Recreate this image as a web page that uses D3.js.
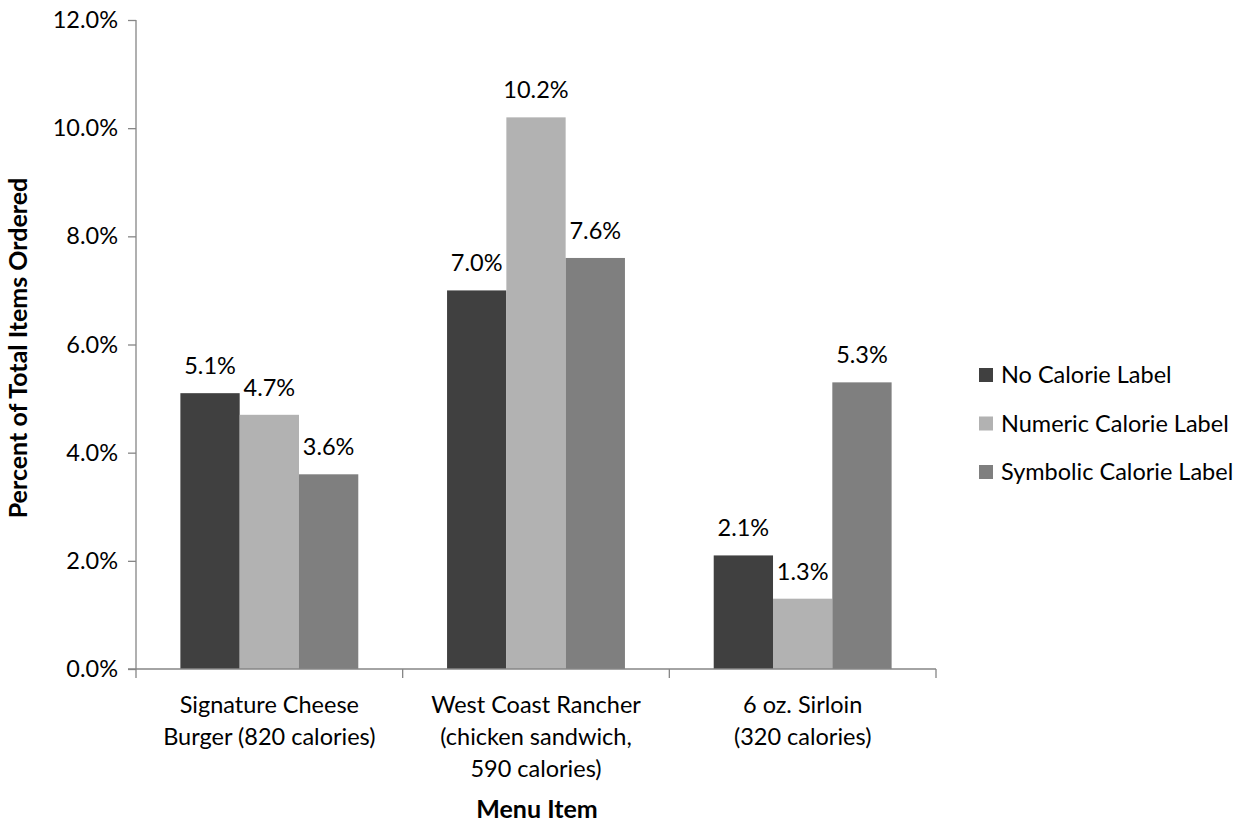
<!DOCTYPE html>
<html>
<head>
<meta charset="utf-8">
<script src="https://cdn.jsdelivr.net/npm/d3@7"></script>
<style>
  html, body { margin: 0; padding: 0; background: #fff; }
  svg text { font-family: Lato, "Open Sans", sans-serif; fill: #000; }
</style>
</head>
<body>
<svg id="chart" width="1259" height="825"></svg>
<script>
// Menu items (x-axis categories), one line per row of the label
const categories = [
  ["Signature Cheese", "Burger (820 calories)"],
  ["West Coast Rancher", "(chicken sandwich,", "590 calories)"],
  ["6 oz. Sirloin", "(320 calories)"]
];
const seriesNames = ["No Calorie Label", "Numeric Calorie Label", "Symbolic Calorie Label"];
// Percent of total items ordered, per series, in category order
const noLabel = [5.1, 7.0, 2.1];
const numericLabel = [4.7, 10.2, 1.3];
const symbolicLabel = [3.6, 7.6, 5.3];
const yTicks = [0, 2, 4, 6, 8, 10, 12];
const colors = ["#404040", "#b2b2b2", "#7f7f7f"];

const series = [noLabel, numericLabel, symbolicLabel];

const FS = 23.5;          // body text size
const TS = 25;            // axis title size
const svg = d3.select("#chart");
const plot = { left: 136, right: 936, top: 20, bottom: 669 };

const x0 = d3.scaleBand()
  .domain(d3.range(categories.length))
  .range([plot.left, plot.right]);
const barW = 59.3;
const x1 = d3.scaleBand()
  .domain(d3.range(series.length))
  .range([0, x0.bandwidth()])
  .paddingInner(0)
  .paddingOuter(((x0.bandwidth() - 3 * barW) / 2) / barW);

const y = d3.scaleLinear().domain([0, 12]).range([plot.bottom, plot.top]);

const axisColor = "#868686";

// Bars
const groups = svg.append("g").selectAll("g")
  .data(categories.map((c, i) => i))
  .join("g")
  .attr("transform", i => `translate(${x0(i)},0)`);

groups.selectAll("rect")
  .data(i => series.map((s, k) => ({ k, v: s[i] })))
  .join("rect")
  .attr("x", d => x1(d.k))
  .attr("width", x1.bandwidth())
  .attr("y", d => y(d.v))
  .attr("height", d => y(0) - y(d.v))
  .attr("fill", d => colors[d.k]);

// Value labels
groups.selectAll("text.val")
  .data(i => series.map((s, k) => ({ k, v: s[i] })))
  .join("text")
  .attr("class", "val")
  .attr("x", d => x1(d.k) + x1.bandwidth() / 2)
  .attr("y", d => y(d.v) - 19)
  .attr("text-anchor", "middle")
  .attr("font-size", FS)
  .text(d => d.v.toFixed(1) + "%");

// Y axis
const yAxis = d3.axisLeft(y)
  .tickValues(yTicks)
  .tickSize(8)
  .tickPadding(10)
  .tickFormat(d => d.toFixed(1) + "%");
const gy = svg.append("g")
  .attr("transform", `translate(${plot.left},0)`)
  .call(yAxis);
gy.select(".domain").attr("stroke", axisColor).attr("stroke-width", 1.3)
  .attr("d", `M0,${plot.top}V${plot.bottom}`);
gy.selectAll(".tick line").attr("stroke", axisColor).attr("stroke-width", 1.3);
gy.selectAll(".tick text").attr("font-size", FS).attr("font-family", "Lato, 'Open Sans', sans-serif").attr("fill", "#000");

// X axis (category boundaries as ticks)
const xEdges = d3.range(categories.length + 1).map(i => plot.left + i * x0.bandwidth());
const gx = svg.append("g");
gx.append("line")
  .attr("x1", plot.left - 8).attr("x2", plot.right)
  .attr("y1", plot.bottom).attr("y2", plot.bottom)
  .attr("stroke", axisColor).attr("stroke-width", 1.3);
gx.selectAll("line.tk")
  .data(xEdges)
  .join("line")
  .attr("class", "tk")
  .attr("x1", d => d).attr("x2", d => d)
  .attr("y1", plot.bottom).attr("y2", plot.bottom + 9)
  .attr("stroke", axisColor).attr("stroke-width", 1.3);

// Category labels
svg.append("g").selectAll("text")
  .data(categories.map((c, i) => ({ c, i })))
  .join("text")
  .attr("text-anchor", "middle")
  .attr("font-size", FS)
  .attr("transform", d => `translate(${x0(d.i) + x0.bandwidth() / 2},${713})`)
  .each(function (d) {
    d3.select(this).selectAll("tspan")
      .data(d.c)
      .join("tspan")
      .attr("x", 0)
      .attr("dy", (t, j) => j === 0 ? 0 : 32)
      .text(t => t);
  });

// Axis titles
svg.append("text")
  .attr("x", 537).attr("y", 818)
  .attr("text-anchor", "middle")
  .attr("font-size", TS)
  .attr("font-weight", "bold")
  .text("Menu Item");

svg.append("text")
  .attr("transform", "translate(27,348) rotate(-90)")
  .attr("text-anchor", "middle")
  .attr("font-size", TS)
  .attr("font-weight", "bold")
  .text("Percent of Total Items Ordered");

// Legend
const legend = svg.append("g").attr("transform", "translate(979,375)");
const li = legend.selectAll("g")
  .data(seriesNames.map((n, k) => ({ n, k })))
  .join("g")
  .attr("transform", d => `translate(0,${d.k * 48.5})`);
li.append("rect")
  .attr("x", 0).attr("y", -7).attr("width", 14).attr("height", 14)
  .attr("fill", d => colors[d.k]);
li.append("text")
  .attr("x", 22).attr("y", 0)
  .attr("dy", "0.35em")
  .attr("font-size", FS)
  .text(d => d.n);
</script>
</body>
</html>
